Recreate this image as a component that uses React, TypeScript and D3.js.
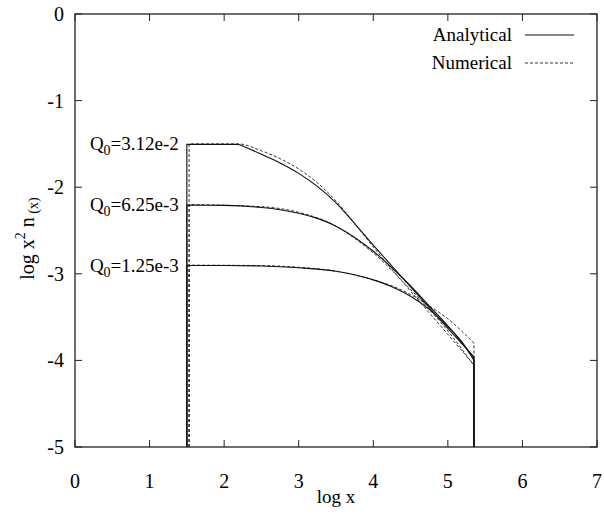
import React from "react";
import * as d3 from "d3";

type Pt = [number, number];

const xTicks = [0, 1, 2, 3, 4, 5, 6, 7];
const yTicks = [0, -1, -2, -3, -4, -5];

const q0Labels = ["3.12e-2", "6.25e-3", "1.25e-3"];
const plateau = [-1.505, -2.205, -2.905];

// [x, y] points; first/last points are the vertical edges down to -5
const analytical1: Pt[] = [[1.5, -5], [1.5, -1.505], [2.19, -1.505], [2.5, -1.62], [2.75, -1.72], [3.0, -1.84], [3.25, -1.99], [3.5, -2.18], [3.75, -2.42], [4.0, -2.67], [4.25, -2.91], [4.5, -3.15], [4.75, -3.39], [5.0, -3.63], [5.35, -3.96], [5.35, -5]];
const analytical2: Pt[] = [[1.5, -5], [1.5, -2.205], [2.0, -2.21], [2.5, -2.235], [2.75, -2.26], [3.0, -2.3], [3.25, -2.36], [3.5, -2.45], [3.75, -2.58], [4.0, -2.74], [4.25, -2.93], [4.5, -3.14], [4.75, -3.37], [5.0, -3.6], [5.35, -3.97], [5.35, -5]];
const analytical3: Pt[] = [[1.5, -5], [1.5, -2.905], [2.0, -2.905], [2.5, -2.91], [3.0, -2.93], [3.5, -2.97], [3.75, -3.01], [4.0, -3.07], [4.25, -3.15], [4.5, -3.26], [4.75, -3.41], [5.0, -3.61], [5.2, -3.8], [5.35, -4.0], [5.35, -5]];

const numerical1: Pt[] = [[1.53, -5], [1.53, -1.5], [2.19, -1.5], [2.5, -1.58], [2.75, -1.67], [3.0, -1.79], [3.25, -1.95], [3.5, -2.16], [3.75, -2.42], [4.0, -2.69], [4.25, -2.95], [4.5, -3.2], [4.75, -3.45], [5.0, -3.7], [5.35, -4.05], [5.35, -5]];
const numerical2: Pt[] = [[1.53, -5], [1.53, -2.2], [2.5, -2.225], [3.0, -2.29], [3.5, -2.45], [3.75, -2.59], [4.0, -2.76], [4.25, -2.96], [4.5, -3.18], [4.75, -3.41], [5.0, -3.66], [5.35, -4.06], [5.35, -5]];
const numerical3: Pt[] = [[1.53, -5], [1.53, -2.9], [2.5, -2.905], [3.0, -2.925], [3.5, -2.97], [4.0, -3.07], [4.25, -3.14], [4.5, -3.24], [4.75, -3.37], [5.0, -3.52], [5.35, -3.8], [5.35, -5]];

const analyticalSeries = [analytical1, analytical2, analytical3];
const numericalSeries = [numerical1, numerical2, numerical3];
// index of the point where a sharp corner (kink) begins the curved part
const analyticalKink = [2, 1, 1];
const numericalKink = [1, 1, 1];

const W = 604;
const H = 515;
const M = { left: 75, right: 7, top: 14, bottom: 68 };
const FONT = "'Liberation Serif', 'Times New Roman', serif";
const INK = "#222";

export default function App() {
  const x = d3.scaleLinear().domain([0, 7]).range([M.left, W - M.right]);
  const y = d3.scaleLinear().domain([-5, 0]).range([H - M.bottom, M.top]);
  const straight = d3.line<Pt>().x((d) => x(d[0])).y((d) => y(d[1]));
  const smooth = d3.line<Pt>().x((d) => x(d[0])).y((d) => y(d[1])).curve(d3.curveMonotoneX);

  const pathFor = (s: Pt[], kink: number) => {
    const head = s.slice(0, kink + 1);
    const body = s.slice(kink, s.length - 1);
    const tail = s.slice(s.length - 2);
    const h = straight(head) || "";
    const b = (smooth(body) || "").replace(/^M[^LC]*/, "");
    const t = (straight(tail) || "").replace(/^M[^L]*/, "");
    return h + b + t;
  };

  const x0 = x(0), x1 = x(7), y0 = y(-5), y1 = y(0);
  const tl = 7;

  return (
    <svg width={W} height={H} style={{ position: "absolute", left: 0, top: 0, background: "#fff" }} fontFamily={FONT}>
      <rect x={0} y={0} width={W} height={H} fill="#fff" />
      {numericalSeries.map((s, i) => (
        <path key={"n" + i} d={pathFor(s, numericalKink[i])} fill="none" stroke="#333" strokeWidth={1} strokeDasharray="3,2" />
      ))}
      {analyticalSeries.map((s, i) => (
        <path key={"a" + i} d={pathFor(s, analyticalKink[i])} fill="none" stroke="#111" strokeWidth={1.1} />
      ))}
      {xTicks.map((t) => (
        <g key={"xt" + t}>
          <line x1={x(t)} x2={x(t)} y1={y0} y2={y0 - tl} stroke={INK} strokeWidth={1} />
          <line x1={x(t)} x2={x(t)} y1={y1} y2={y1 + tl} stroke={INK} strokeWidth={1} />
          <text x={x(t)} y={y0 + 41} textAnchor="middle" fontSize={20} fill="#000">{t}</text>
        </g>
      ))}
      {yTicks.map((t) => (
        <g key={"yt" + t}>
          <line x1={x0} x2={x0 + tl} y1={y(t)} y2={y(t)} stroke={INK} strokeWidth={1} />
          <line x1={x1} x2={x1 - tl} y1={y(t)} y2={y(t)} stroke={INK} strokeWidth={1} />
          <text x={x0 - 11} y={y(t) + 7} textAnchor="end" fontSize={20} fill="#000">{t < 0 ? "-" + Math.abs(t) : t}</text>
        </g>
      ))}
      <rect x={x0} y={y1} width={x1 - x0} height={y0 - y1} fill="none" stroke={INK} strokeWidth={1.3} />
      {q0Labels.map((lab, i) => (
        <text key={"q" + i} x={x(1.5) - 8} y={y(plateau[i]) + 6} textAnchor="end" fontSize={19} fill="#000">
          Q<tspan fontSize={14} dy={5}>0</tspan><tspan dy={-5}>={lab}</tspan>
        </text>
      ))}
      <text x={512} y={41} textAnchor="end" fontSize={19} fill="#000">Analytical</text>
      <line x1={525} x2={574} y1={35} y2={35} stroke="#111" strokeWidth={1.1} />
      <text x={512} y={69} textAnchor="end" fontSize={19} fill="#000">Numerical</text>
      <line x1={525} x2={574} y1={63} y2={63} stroke="#333" strokeWidth={1} strokeDasharray="3,2" />
      <text x={(x0 + x1) / 2} y={503} textAnchor="middle" fontSize={19} fill="#000">log x</text>
      <text transform={`translate(34, ${(y0 + y1) / 2 + 8}) rotate(-90)`} textAnchor="middle" fontSize={20} fill="#000">
        log x<tspan fontSize={14} dy={-9}>2</tspan><tspan dy={9}> n</tspan><tspan fontSize={14} dy={4}> (x)</tspan>
      </text>
    </svg>
  );
}
